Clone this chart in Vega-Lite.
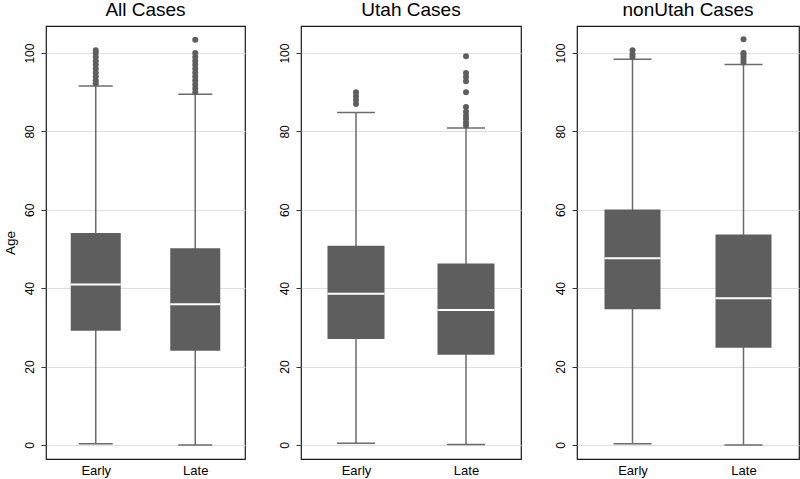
{
  "$schema": "https://vega.github.io/schema/vega-lite/v6.json",
  "padding": {"left": 2, "top": 0, "right": 0, "bottom": 0},
  "spacing": 31,
  "background": "white",
  "config": {
    "font": "Liberation Sans",
    "view": {"stroke": "#1a1a1a", "strokeWidth": 1.2},
    "title": {"fontSize": 19, "fontWeight": "normal", "color": "#000", "offset": 6},
    "axisY": {
      "grid": true, "gridColor": "#dedede", "gridWidth": 1.2,
      "domain": false, "tickColor": "#333", "tickSize": 5, "tickWidth": 1,
      "labelAngle": -90, "labelAlign": "center", "labelBaseline": "bottom",
      "labelFontSize": 12, "labelColor": "#000", "labelPadding": 5,
      "titleFontSize": 13.5, "titleFontWeight": "normal", "titleColor": "#000", "titlePadding": 6
    },
    "axisX": {
      "grid": false, "domain": false, "ticks": false,
      "labelAngle": 0, "labelFontSize": 13, "labelColor": "#000", "labelPadding": 5
    }
  },
  "datasets": {
    "boxes": [
      {"group": "All", "period": "Early", "lo": 0.3, "q1": 29.1, "med": 40.9, "q3": 54.1, "hi": 91.6},
      {"group": "All", "period": "Late", "lo": 0, "q1": 24.0, "med": 35.9, "q3": 50.2, "hi": 89.5},
      {"group": "Utah", "period": "Early", "lo": 0.4, "q1": 27.0, "med": 38.6, "q3": 50.8, "hi": 84.8},
      {"group": "Utah", "period": "Late", "lo": 0.1, "q1": 23.0, "med": 34.4, "q3": 46.3, "hi": 80.9},
      {"group": "nonUtah", "period": "Early", "lo": 0.3, "q1": 34.6, "med": 47.6, "q3": 60.1, "hi": 98.4},
      {"group": "nonUtah", "period": "Late", "lo": 0, "q1": 24.8, "med": 37.4, "q3": 53.7, "hi": 97.1}
    ],
    "outliers": [
      {"group": "All", "period": "Early", "age": 92.2},
      {"group": "All", "period": "Early", "age": 93},
      {"group": "All", "period": "Early", "age": 94},
      {"group": "All", "period": "Early", "age": 95},
      {"group": "All", "period": "Early", "age": 96},
      {"group": "All", "period": "Early", "age": 97},
      {"group": "All", "period": "Early", "age": 98},
      {"group": "All", "period": "Early", "age": 99},
      {"group": "All", "period": "Early", "age": 100},
      {"group": "All", "period": "Early", "age": 100.7},
      {"group": "All", "period": "Late", "age": 90},
      {"group": "All", "period": "Late", "age": 91},
      {"group": "All", "period": "Late", "age": 92},
      {"group": "All", "period": "Late", "age": 93},
      {"group": "All", "period": "Late", "age": 94},
      {"group": "All", "period": "Late", "age": 95},
      {"group": "All", "period": "Late", "age": 96},
      {"group": "All", "period": "Late", "age": 97},
      {"group": "All", "period": "Late", "age": 98},
      {"group": "All", "period": "Late", "age": 99},
      {"group": "All", "period": "Late", "age": 100},
      {"group": "All", "period": "Late", "age": 103.4},
      {"group": "Utah", "period": "Early", "age": 87},
      {"group": "Utah", "period": "Early", "age": 88},
      {"group": "Utah", "period": "Early", "age": 89},
      {"group": "Utah", "period": "Early", "age": 90},
      {"group": "Utah", "period": "Late", "age": 81.5},
      {"group": "Utah", "period": "Late", "age": 82.3},
      {"group": "Utah", "period": "Late", "age": 83.2},
      {"group": "Utah", "period": "Late", "age": 84},
      {"group": "Utah", "period": "Late", "age": 85},
      {"group": "Utah", "period": "Late", "age": 86.2},
      {"group": "Utah", "period": "Late", "age": 90},
      {"group": "Utah", "period": "Late", "age": 92.8},
      {"group": "Utah", "period": "Late", "age": 93.9},
      {"group": "Utah", "period": "Late", "age": 94.9},
      {"group": "Utah", "period": "Late", "age": 99.2},
      {"group": "nonUtah", "period": "Early", "age": 99},
      {"group": "nonUtah", "period": "Early", "age": 99.7},
      {"group": "nonUtah", "period": "Early", "age": 100.7},
      {"group": "nonUtah", "period": "Late", "age": 97.6},
      {"group": "nonUtah", "period": "Late", "age": 98.3},
      {"group": "nonUtah", "period": "Late", "age": 99},
      {"group": "nonUtah", "period": "Late", "age": 99.6},
      {"group": "nonUtah", "period": "Late", "age": 100},
      {"group": "nonUtah", "period": "Late", "age": 103.5}
    ]
  },
  "hconcat": [
    {
      "title": "All Cases",
      "width": 199,
      "height": 433,
      "encoding": {
        "x": {"field": "period", "type": "nominal", "title": null, "scale": {"type": "point", "padding": 0.5}},
        "y": {"type": "quantitative", "title": "Age", "scale": {"domain": [-3.6, 106.9], "nice": false, "zero": false}, "axis": {"values": [0, 20, 40, 60, 80, 100]}}
      },
      "layer": [
        {"data": {"name": "boxes"}, "transform": [{"filter": "datum.group == 'All'"}], "mark": {"type": "rule", "color": "#6b6b6b", "strokeWidth": 1.5}, "encoding": {"y": {"field": "lo"}, "y2": {"field": "hi"}}},
        {"data": {"name": "boxes"}, "transform": [{"filter": "datum.group == 'All'"}], "mark": {"type": "tick", "orient": "horizontal", "color": "#6b6b6b", "thickness": 1.5, "size": 34, "opacity": 1}, "encoding": {"y": {"field": "lo"}}},
        {"data": {"name": "boxes"}, "transform": [{"filter": "datum.group == 'All'"}], "mark": {"type": "tick", "orient": "horizontal", "color": "#6b6b6b", "thickness": 1.5, "size": 34, "opacity": 1}, "encoding": {"y": {"field": "hi"}}},
        {"data": {"name": "boxes"}, "transform": [{"filter": "datum.group == 'All'"}], "mark": {"type": "bar", "color": "#5e5e5e", "width": 50}, "encoding": {"y": {"field": "q1"}, "y2": {"field": "q3"}}},
        {"data": {"name": "boxes"}, "transform": [{"filter": "datum.group == 'All'"}], "mark": {"type": "tick", "orient": "horizontal", "color": "white", "thickness": 2, "size": 50, "opacity": 1}, "encoding": {"y": {"field": "med"}}},
        {"data": {"name": "outliers"}, "transform": [{"filter": "datum.group == 'All'"}], "mark": {"type": "point", "filled": true, "color": "#5e5e5e", "size": 36, "opacity": 1}, "encoding": {"y": {"field": "age"}}}
      ]
    },
    {
      "title": "Utah Cases",
      "width": 220,
      "height": 433,
      "encoding": {
        "x": {"field": "period", "type": "nominal", "title": null, "scale": {"type": "point", "padding": 0.5}},
        "y": {"type": "quantitative", "title": null, "scale": {"domain": [-3.6, 106.9], "nice": false, "zero": false}, "axis": {"values": [0, 20, 40, 60, 80, 100]}}
      },
      "layer": [
        {"data": {"name": "boxes"}, "transform": [{"filter": "datum.group == 'Utah'"}], "mark": {"type": "rule", "color": "#6b6b6b", "strokeWidth": 1.5}, "encoding": {"y": {"field": "lo"}, "y2": {"field": "hi"}}},
        {"data": {"name": "boxes"}, "transform": [{"filter": "datum.group == 'Utah'"}], "mark": {"type": "tick", "orient": "horizontal", "color": "#6b6b6b", "thickness": 1.5, "size": 38, "opacity": 1}, "encoding": {"y": {"field": "lo"}}},
        {"data": {"name": "boxes"}, "transform": [{"filter": "datum.group == 'Utah'"}], "mark": {"type": "tick", "orient": "horizontal", "color": "#6b6b6b", "thickness": 1.5, "size": 38, "opacity": 1}, "encoding": {"y": {"field": "hi"}}},
        {"data": {"name": "boxes"}, "transform": [{"filter": "datum.group == 'Utah'"}], "mark": {"type": "bar", "color": "#5e5e5e", "width": 57}, "encoding": {"y": {"field": "q1"}, "y2": {"field": "q3"}}},
        {"data": {"name": "boxes"}, "transform": [{"filter": "datum.group == 'Utah'"}], "mark": {"type": "tick", "orient": "horizontal", "color": "white", "thickness": 2, "size": 57, "opacity": 1}, "encoding": {"y": {"field": "med"}}},
        {"data": {"name": "outliers"}, "transform": [{"filter": "datum.group == 'Utah'"}], "mark": {"type": "point", "filled": true, "color": "#5e5e5e", "size": 36, "opacity": 1}, "encoding": {"y": {"field": "age"}}}
      ]
    },
    {
      "title": "nonUtah Cases",
      "width": 222,
      "height": 433,
      "encoding": {
        "x": {"field": "period", "type": "nominal", "title": null, "scale": {"type": "point", "padding": 0.5}},
        "y": {"type": "quantitative", "title": null, "scale": {"domain": [-3.6, 106.9], "nice": false, "zero": false}, "axis": {"values": [0, 20, 40, 60, 80, 100]}}
      },
      "layer": [
        {"data": {"name": "boxes"}, "transform": [{"filter": "datum.group == 'nonUtah'"}], "mark": {"type": "rule", "color": "#6b6b6b", "strokeWidth": 1.5}, "encoding": {"y": {"field": "lo"}, "y2": {"field": "hi"}}},
        {"data": {"name": "boxes"}, "transform": [{"filter": "datum.group == 'nonUtah'"}], "mark": {"type": "tick", "orient": "horizontal", "color": "#6b6b6b", "thickness": 1.5, "size": 38, "opacity": 1}, "encoding": {"y": {"field": "lo"}}},
        {"data": {"name": "boxes"}, "transform": [{"filter": "datum.group == 'nonUtah'"}], "mark": {"type": "tick", "orient": "horizontal", "color": "#6b6b6b", "thickness": 1.5, "size": 38, "opacity": 1}, "encoding": {"y": {"field": "hi"}}},
        {"data": {"name": "boxes"}, "transform": [{"filter": "datum.group == 'nonUtah'"}], "mark": {"type": "bar", "color": "#5e5e5e", "width": 56}, "encoding": {"y": {"field": "q1"}, "y2": {"field": "q3"}}},
        {"data": {"name": "boxes"}, "transform": [{"filter": "datum.group == 'nonUtah'"}], "mark": {"type": "tick", "orient": "horizontal", "color": "white", "thickness": 2, "size": 56, "opacity": 1}, "encoding": {"y": {"field": "med"}}},
        {"data": {"name": "outliers"}, "transform": [{"filter": "datum.group == 'nonUtah'"}], "mark": {"type": "point", "filled": true, "color": "#5e5e5e", "size": 36, "opacity": 1}, "encoding": {"y": {"field": "age"}}}
      ]
    }
  ]
}
